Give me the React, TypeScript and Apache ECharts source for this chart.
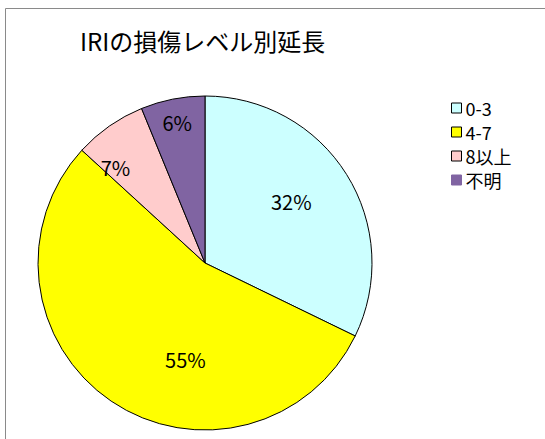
import React, { useEffect, useRef } from "react";
import * as echarts from "echarts";

const title = "IRIの損傷レベル別延長";
const categories = ["0-3", "4-7", "8以上", "不明"];
const values = [32.2, 54.6, 7.0, 6.2];
const colors = ["#CCFFFF", "#FFFF00", "#FFCCCC", "#8064A2"];
const legendBorders = ["#000", "#000", "#000", "#8064A2"];
const labelOffsets = [[13, -16], [29, 25], [-40, -25], [-11, -56]];

const FONT = "'Noto Sans CJK JP', 'Noto Sans', sans-serif";

export default function App() {
  const ref = useRef<HTMLDivElement>(null);
  useEffect(() => {
    const chart = echarts.init(ref.current!, null, { renderer: "svg" });
    chart.setOption({
      animation: false,
      backgroundColor: "#ffffff",
      title: {
        text: title,
        left: 75,
        top: 23,
        textStyle: { fontFamily: FONT, fontSize: 24, fontWeight: "normal", color: "#000" },
      },
      graphic: [
        {
          type: "rect",
          shape: { x: 5.5, y: 8.5, width: 700, height: 600 },
          style: { fill: "none", stroke: "#8a8a8a", lineWidth: 1 },
          silent: true,
        },
      ],
      legend: {
        orient: "vertical",
        left: 446,
        top: 93,
        itemWidth: 10,
        itemHeight: 10,
        itemGap: 4,
        icon: "rect",
        textStyle: {
          fontFamily: FONT,
          fontSize: 18,
          lineHeight: 20,
          color: "#000",
          padding: [0, 0, 0, -1],
        },
        data: categories.map((c, i) => ({
          name: c,
          itemStyle: { borderColor: legendBorders[i], borderWidth: 1 },
        })),
      },
      series: [
        {
          type: "pie",
          center: [205, 263],
          radius: 167,
          startAngle: 90,
          clockwise: true,
          avoidLabelOverlap: false,
          itemStyle: { borderColor: "#000", borderWidth: 1 },
          emphasis: { disabled: true },
          label: {
            show: true,
            position: "inside",
            fontFamily: FONT,
            fontSize: 20,
            color: "#000",
            formatter: (p: any) => Math.round(p.percent) + "%",
          },
          labelLine: { show: false },
          data: categories.map((c, i) => ({
            name: c,
            value: values[i],
            itemStyle: { color: colors[i], borderColor: "#000", borderWidth: 1 },
            label: { offset: labelOffsets[i] },
          })),
        },
      ],
    });
    return () => chart.dispose();
  }, []);
  return (
    <div
      ref={ref}
      style={{ position: "fixed", left: 0, top: 0, width: 545, height: 439 }}
    />
  );
}
